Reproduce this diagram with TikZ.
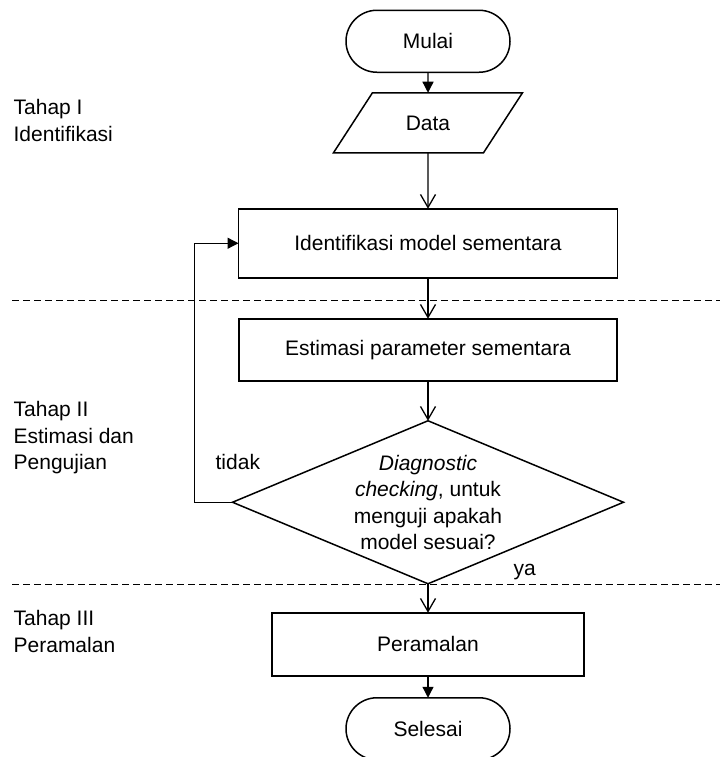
\documentclass[tikz,border=0pt]{standalone}
\usepackage{fontspec}
\setmainfont{Liberation Sans}
\usetikzlibrary{shapes.geometric, arrows.meta, graphs}

\tikzset{
    terminal/.style={draw=black, rectangle, rounded corners=31pt, line width=1.5pt,
        minimum width=164pt, minimum height=62pt},
    io/.style={draw=black, trapezium, trapezium left angle=57, trapezium right angle=123,
        trapezium stretches body, line width=1.5pt, minimum width=189pt,
        text height=15.2pt, text depth=0pt, inner ysep=22.4pt},
    process/.style={draw=black, rectangle, line width=1.5pt},
    decision/.style={draw=black, diamond, line width=1.5pt, inner sep=0pt,
        minimum width=391pt, minimum height=163pt},
    openarrow/.style={-{Straight Barb[length=13pt,width=15pt]}},
    fillarrow/.style={-{Triangle[length=11pt,width=11pt]}},
    separator/.style={line width=1pt, dash pattern=on 7pt off 4pt},
    sidelabel/.style={anchor=north west, inner sep=0pt, align=left}
}

\begin{document}
\begin{tikzpicture}[x=1pt, y=-1pt, line width=1.3pt,
        every node/.style={font=\fontsize{21pt}{26.5pt}\selectfont}]
    \useasboundingbox (0,0) rectangle (720,757);

    \matrix[row sep=0pt, inner sep=0pt, outer sep=0pt, anchor=north] at (428,9.5) {
        \node[terminal] (mulai) {Mulai} ; \\[19pt]
        \node[io] (data) {Data} ; \\[54.5pt]
        \node[process, minimum width=379pt, minimum height=69pt] (ident) {Identifikasi model sementara} ; \\[39.5pt]
        \node[process, minimum width=378pt, minimum height=62pt] (estim) {Estimasi parameter sementara} ; \\[38.5pt]
        \node[decision, label={[align=center]center:\textit{Diagnostic}\\\textit{checking}, untuk\\menguji apakah\\model sesuai?}] (check) {} ; \\[27.5pt]
        \node[process, minimum width=312pt, minimum height=63pt] (peram) {Peramalan} ; \\[20.5pt]
        \node[terminal] (selesai) {Selesai} ; \\
    } ;

    \graph[use existing nodes] {
        mulai ->[fillarrow] data ->[openarrow] ident ->[openarrow] estim ->[openarrow] check ->[openarrow] peram ->[fillarrow] selesai ;
    } ;

    % kembali ke identifikasi
    \draw[fillarrow] (check.west) -- ++(-38pt,0) |- (ident.west) ;
    \node[anchor=base west, inner sep=0pt] (tidak) at (215,469) {tidak} ;
    \node[anchor=base west, inner sep=0pt] (ya) at (513,575) {ya} ;

    % batas tahap
    \draw[separator] (12,300) -- (720,300) ;
    \draw[separator] (12,584) -- (720,584) ;

    \node[sidelabel] (tahap1) at (13,99) {Tahap I\\Identifikasi} ;
    \node[sidelabel] (tahap2) at (13,401) {Tahap II\\Estimasi dan\\Pengujian} ;
    \node[sidelabel] (tahap3) at (13,610) {Tahap III\\Peramalan} ;
\end{tikzpicture}
\end{document}
